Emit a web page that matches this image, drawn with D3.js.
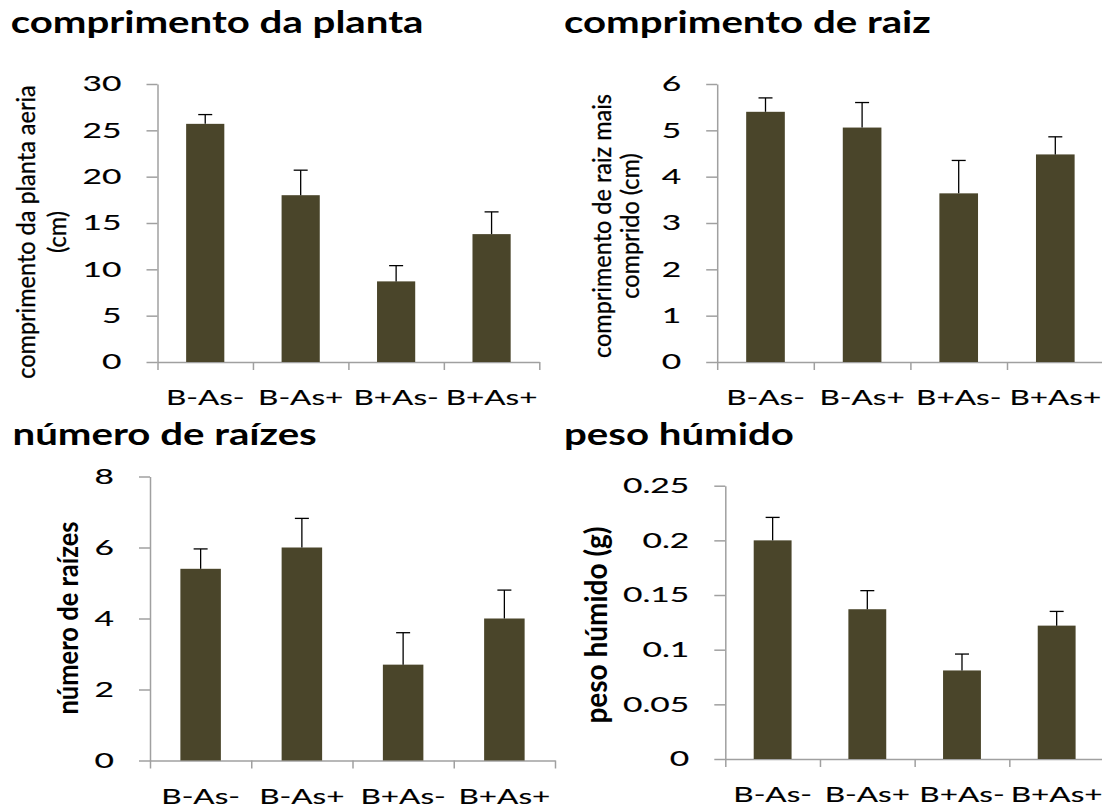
<!DOCTYPE html>
<html>
<head>
<meta charset="utf-8">
<script src="https://cdn.jsdelivr.net/npm/d3@7"></script>
<style>
  html, body { margin: 0; padding: 0; background: #ffffff; }
  svg { display: block; }
</style>
</head>
<body>
<svg id="chart" width="1102" height="809"></svg>
<script>
// ---------------- data ----------------
const categories = ["B-As-", "B-As+", "B+As-", "B+As+"];

const plantLength = [25.7, 18.0, 8.7, 13.8];
const plantLengthErr = [1.0, 2.7, 1.7, 2.4];
const plantTicks = [0, 5, 10, 15, 20, 25, 30];

const rootLength = [5.4, 5.06, 3.64, 4.48];
const rootLengthErr = [0.3, 0.54, 0.71, 0.38];
const rootTicks = [0, 1, 2, 3, 4, 5, 6];

const rootCount = [5.4, 6.0, 2.7, 4.0];
const rootCountErr = [0.56, 0.82, 0.9, 0.8];
const countTicks = [0, 2, 4, 6, 8];

const freshWeight = [0.200, 0.137, 0.081, 0.122];
const freshWeightErr = [0.021, 0.017, 0.015, 0.013];
const weightTicks = [0, 0.05, 0.1, 0.15, 0.2, 0.25];
const weightTickLabels = ["0", "0.05", "0.1", "0.15", "0.2", "0.25"];

const titles = ["comprimento da planta", "comprimento de raiz", "número de raízes", "peso húmido"];
const yTitles = [
  ["comprimento da planta aeria", "(cm)"],
  ["comprimento de raiz mais", "comprido (cm)"],
  ["número de raízes"],
  ["peso húmido (g)"]
];

// ---------------- style ----------------
const BAR = "#4a452a";
const AXIS = "#a0a0a0";
const FONT = "Lato, 'Open Sans', sans-serif";
const TICK_SIZE = 21, TICK_SX = 1.6;
const XLAB_SIZE = 21, XLAB_SX = 1.5;
const TITLE_SIZE = 30, TITLE_SX = 1.34;

const svg = d3.select("#chart");

const panels = [
  { values: plantLength, errs: plantLengthErr, ticks: plantTicks, tickLabels: plantTicks.map(String),
    max: 30, ax: 157.5, xEnd: 539.3, yTop: 84, y0: 362,
    titleX: 10.7, titleY: 33, title: titles[0],
    yt: yTitles[0], ytX: [35, 66], ytY: 232, ytSize: 23.5, ytBold: false, ytSX: 1.08 },
  { values: rootLength, errs: rootLengthErr, ticks: rootTicks, tickLabels: rootTicks.map(String),
    max: 6, ax: 717.2, xEnd: 1103.6, yTop: 84, y0: 362,
    titleX: 564, titleY: 33, title: titles[1],
    yt: yTitles[1], ytX: [611, 639], ytY: 226, ytSize: 23.5, ytBold: false, ytSX: 1.08 },
  { values: rootCount, errs: rootCountErr, ticks: countTicks, tickLabels: countTicks.map(String),
    max: 8, ax: 150, xEnd: 555, yTop: 476.5, y0: 760.5,
    titleX: 12.5, titleY: 445, title: titles[2],
    yt: yTitles[2], ytX: [78], ytY: 618, ytSize: 25.5, ytBold: true, ytSX: 1.12 },
  { values: freshWeight, errs: freshWeightErr, ticks: weightTicks, tickLabels: weightTickLabels,
    max: 0.25, ax: 725.3, xEnd: 1104, yTop: 485.7, y0: 759,
    titleX: 564, titleY: 445, title: titles[3],
    yt: yTitles[3], ytX: [607], ytY: 625, ytSize: 28, ytBold: true, ytSX: 1.12 }
];

panels.forEach(p => {
  const g = svg.append("g");
  const y = d3.scaleLinear().domain([0, p.max]).range([p.y0, p.yTop]);
  const x = d3.scaleBand().domain(categories).range([p.ax, p.xEnd]).paddingInner(0.6).paddingOuter(0.3);
  const xi = d3.scaleLinear().domain([0, categories.length]).range([p.ax, p.xEnd]);

  // y axis
  const ya = g.append("g").attr("transform", `translate(${p.ax},0)`)
    .call(d3.axisLeft(y).tickValues(p.ticks).tickSize(11).tickSizeOuter(0).tickFormat(""));
  // x axis
  const xa = g.append("g").attr("transform", `translate(0,${p.y0})`)
    .call(d3.axisBottom(xi).tickValues(d3.range(categories.length + 1)).tickSize(8).tickSizeOuter(0).tickFormat(""));
  [ya, xa].forEach(a => {
    a.selectAll("path, line").attr("stroke", AXIS).attr("stroke-width", 1.5);
  });

  // bars
  g.selectAll("rect.bar").data(p.values).enter().append("rect")
    .attr("class", "bar")
    .attr("x", (d, i) => x(categories[i]))
    .attr("width", x.bandwidth())
    .attr("y", d => y(d))
    .attr("height", d => y(0) - y(d))
    .attr("fill", BAR);

  // error bars (plus only)
  const cap = 14;
  p.values.forEach((v, i) => {
    const cx = x(categories[i]) + x.bandwidth() / 2;
    const top = y(v + p.errs[i]);
    g.append("line").attr("x1", cx).attr("x2", cx).attr("y1", y(v)).attr("y2", top)
      .attr("stroke", "#000").attr("stroke-width", 1.3);
    g.append("line").attr("x1", cx - cap / 2).attr("x2", cx + cap / 2).attr("y1", top).attr("y2", top)
      .attr("stroke", "#000").attr("stroke-width", 1.3);
  });

  // y tick labels
  p.ticks.forEach((t, i) => {
    g.append("text")
      .attr("transform", `translate(${p.ax - 36},${y(t) + 7.3}) scale(${TICK_SX},1)`)
      .attr("text-anchor", "end")
      .attr("font-family", FONT).attr("font-size", TICK_SIZE).attr("fill", "#000")
      .attr("stroke", "#000").attr("stroke-width", 0.12)
      .text(p.tickLabels[i]);
  });

  // x labels
  categories.forEach(c => {
    g.append("text")
      .attr("transform", `translate(${x(c) + x.bandwidth() / 2},${p.y0 + 43}) scale(${XLAB_SX},1)`)
      .attr("text-anchor", "middle")
      .attr("font-family", FONT).attr("font-size", XLAB_SIZE).attr("fill", "#000")
      .attr("stroke", "#000").attr("stroke-width", 0.12)
      .text(c);
  });

  // title
  g.append("text")
    .attr("transform", `translate(${p.titleX},${p.titleY}) scale(${TITLE_SX},1)`)
    .attr("font-family", FONT).attr("font-weight", "bold").attr("font-size", TITLE_SIZE).attr("fill", "#000")
    .text(p.title);

  // y-axis title (rotated)
  p.yt.forEach((line, i) => {
    g.append("text")
      .attr("transform", `translate(${p.ytX[i]},${p.ytY}) scale(${p.ytSX},1) rotate(-90)`)
      .attr("text-anchor", "middle")
      .attr("font-family", FONT).attr("font-weight", p.ytBold ? "bold" : "normal")
      .attr("font-size", p.ytSize).attr("fill", "#000")
      .attr("stroke", p.ytBold ? "none" : "#000").attr("stroke-width", 0.3)
      .text(line);
  });
});
</script>
</body>
</html>
